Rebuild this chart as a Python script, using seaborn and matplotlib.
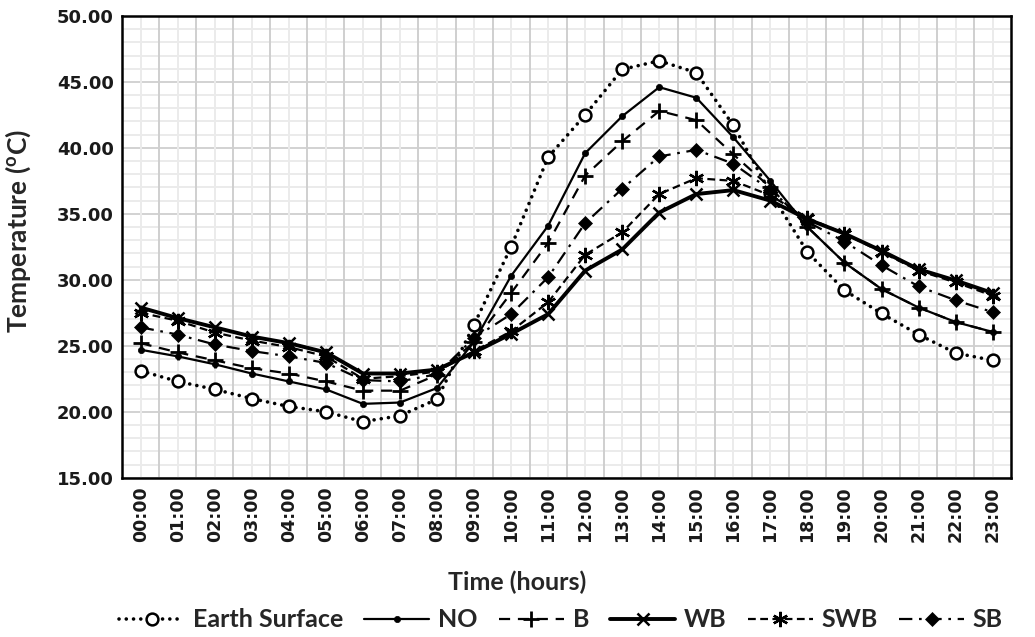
import matplotlib
matplotlib.use("Agg")
import matplotlib.pyplot as plt
from matplotlib.ticker import MultipleLocator, FixedLocator
import seaborn as sns
import numpy as np

hours = [f"{h:02d}:00" for h in range(24)]

earth_surface = [23.1, 22.3, 21.7, 21.0, 20.4, 20.0, 19.25, 19.7, 20.95, 26.6, 32.5, 39.3,
                 42.5, 45.95, 46.6, 45.7, 41.7, 36.6, 32.1, 29.2, 27.45, 25.85, 24.45, 23.9]
no_shade = [24.7, 24.2, 23.6, 22.9, 22.3, 21.7, 20.6, 20.7, 21.8, 25.3, 30.3, 34.1,
            39.6, 42.4, 44.6, 43.8, 40.8, 37.5, 34.0, 31.3, 29.3, 27.9, 26.8, 26.05]
b_shade = [25.2, 24.5, 23.9, 23.3, 22.9, 22.3, 21.6, 21.6, 22.8, 25.3, 29.0, 32.8,
           37.9, 40.5, 42.8, 42.1, 39.5, 37.0, 34.0, 31.3, 29.3, 27.9, 26.8, 26.05]
wb_shade = [27.9, 27.1, 26.4, 25.7, 25.2, 24.5, 22.9, 22.9, 23.2, 24.5, 25.9, 27.4,
            30.7, 32.3, 35.1, 36.5, 36.8, 36.0, 34.6, 33.5, 32.2, 30.8, 29.95, 29.0]
swb_shade = [27.5, 26.9, 26.0, 25.4, 24.9, 24.2, 22.5, 22.7, 23.05, 24.6, 26.1, 28.3,
             31.9, 33.6, 36.5, 37.7, 37.5, 36.4, 34.7, 33.5, 32.1, 30.7, 29.8, 28.8]
sb_shade = [26.4, 25.85, 25.1, 24.6, 24.2, 23.7, 22.4, 22.3, 22.85, 25.6, 27.4, 30.2,
            34.3, 36.9, 39.35, 39.85, 38.8, 36.8, 34.4, 32.9, 31.1, 29.5, 28.45, 27.55]

sns.set_theme(style="white")
plt.rcParams["font.family"] = ["DejaVu Sans"]

fig = plt.figure(figsize=(10.35, 6.37), dpi=100)
ax = fig.add_axes([0.118, 0.25, 0.859, 0.725])

x = np.arange(len(hours))
common = dict(color="black", markeredgecolor="black", zorder=3)
series = [
    ("Earth Surface", earth_surface, dict(linestyle=(0, (0.01, 2.0)), dash_capstyle="round",
                                          linewidth=2.6, marker="o", markersize=8.5,
                                          markerfacecolor="white", markeredgewidth=1.8)),
    ("NO", no_shade, dict(linestyle="-", linewidth=1.6, marker="o", markersize=4.5,
                          markeredgewidth=0.5)),
    ("B", b_shade, dict(linestyle=(0, (5, 3.5)), linewidth=1.6, marker="+", markersize=11,
                        markeredgewidth=2.0)),
    ("WB", wb_shade, dict(linestyle="-", linewidth=2.8, marker="x", markersize=8.5,
                          markeredgewidth=1.8)),
    ("SWB", swb_shade, dict(linestyle=(0, (3.5, 2)), linewidth=1.6, marker=(6, 2, 0),
                            markersize=11, markeredgewidth=1.7)),
    ("SB", sb_shade, dict(linestyle=(0, (6, 3, 1.2, 3)), linewidth=1.6, marker="D",
                          markersize=7, markeredgewidth=0.5)),
]

for name, vals, style in series:
    sns.lineplot(x=x, y=vals, ax=ax, label=name, **common, **style)

ax.set_xlim(-0.5, 23.5)
ax.set_ylim(15, 50)
ax.yaxis.set_minor_locator(MultipleLocator(1))
ax.xaxis.set_major_locator(FixedLocator(x))
ax.set_xticklabels(hours, rotation=90, fontsize=12.5, fontweight="bold", color="#1a1a1a")
yt = np.arange(15, 51, 5)
ax.set_yticks(yt)
ax.set_yticklabels([f"{v:.2f}" for v in yt], fontsize=13, fontweight="bold", color="#1a1a1a")
ax.tick_params(axis="both", which="both", length=0, pad=6)

# Gridlines: vertical at category boundaries (major) and centres (minor),
# horizontal every 5 (major) and every 1 (minor)
ax.grid(False)
for b in np.arange(0.5, 23.5, 1):
    ax.axvline(b, color="#cfcfcf", linewidth=1.4, zorder=1)
for c in x:
    ax.axvline(c, color="#ebebeb", linewidth=1.4, zorder=0.9)
ax.yaxis.grid(True, which="major", color="#d2d2d2", linewidth=1.4, zorder=1)
ax.yaxis.grid(True, which="minor", color="#ebebeb", linewidth=1.4, zorder=0.9)
ax.set_axisbelow(True)

for sp in ax.spines.values():
    sp.set_visible(True)
    sp.set_color("black")
    sp.set_linewidth(1.8)

ax.set_ylabel(r"Temperature ($\mathregular{^{o}}$C)", family=["Lato", "DejaVu Sans"],
              fontsize=19, fontweight="bold")
ax.yaxis.set_label_coords(-0.100, 0.535)
ax.set_xlabel("")
fig.text(0.50, 0.086, "Time (hours)", ha="center", va="center",
         family=["Lato", "DejaVu Sans"], fontsize=18, fontweight="bold")

ax.get_legend().remove()
handles, labels = ax.get_legend_handles_labels()
fig.legend(handles, labels, loc="center", bbox_to_anchor=(0.542, 0.027), ncol=6,
           frameon=False, handlelength=2.6, handletextpad=0.35, columnspacing=0.85,
           borderaxespad=0, borderpad=0,
           prop=dict(family=["Lato", "DejaVu Sans"], size=18, weight="bold"))

fig.savefig("out.png", dpi=100, facecolor="white")
